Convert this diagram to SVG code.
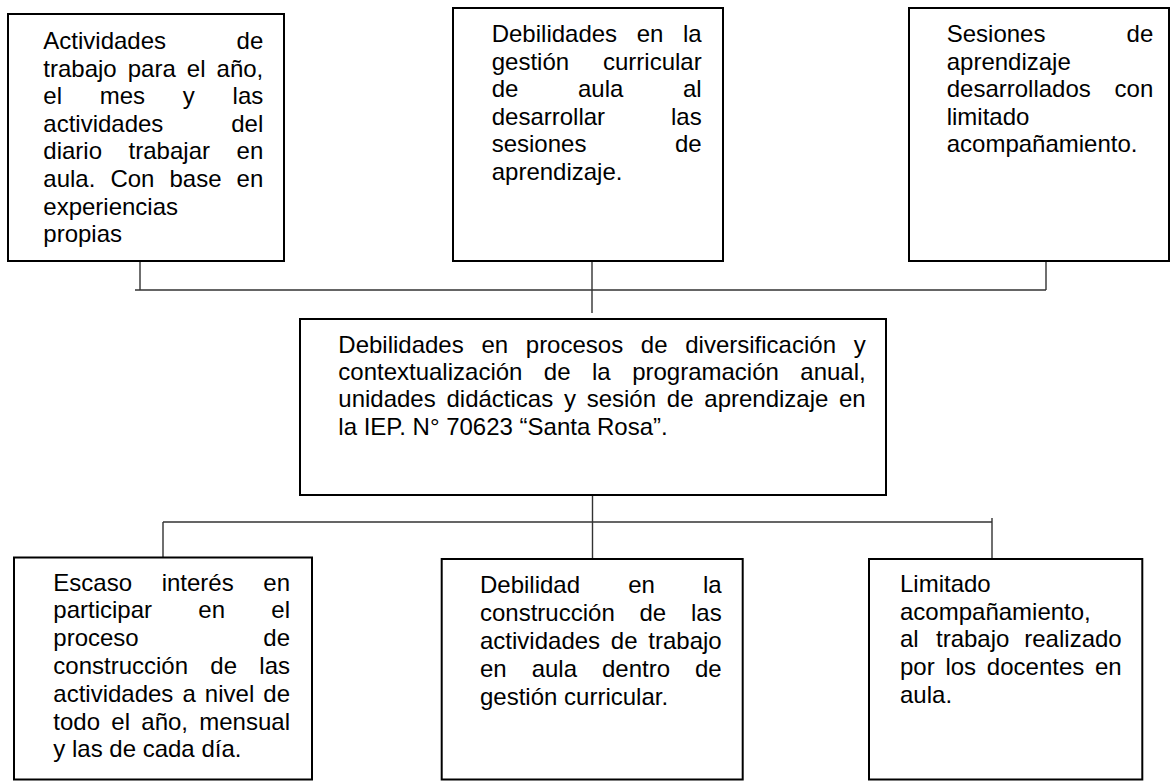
<svg xmlns="http://www.w3.org/2000/svg" width="1171" height="781" viewBox="0 0 1171 781">
<style>
.box{fill:#fff;stroke:#000;stroke-width:2}
.t{font-family:"Liberation Sans",Arial,sans-serif;font-size:24px;fill:#000}
.e{text-anchor:end}
.conn{stroke:#333;stroke-width:1.4;fill:none}
</style>
<rect width="1171" height="781" fill="#fff"/>
<g id="connectors">
<path class="conn" d="M140,261 V290 M135,290 H1046 M1046,261 V290 M592,261 V313"/>
<path class="conn" d="M592.5,495 V559 M163,522 H992 M163,522 V558 M992,518 V559"/>
</g>
<g id="node-top1">
<rect class="box" x="8" y="14" width="276" height="247"/>
<text class="t"><tspan x="43.3" y="49">Actividades</tspan><tspan class="e" x="263.3" y="49">de</tspan><tspan x="43.3" y="76.6">trabajo</tspan><tspan x="127.75" y="76.6">para</tspan><tspan x="186.85" y="76.6">el</tspan><tspan class="e" x="263.3" y="76.6">año,</tspan><tspan x="43.3" y="104.2">el</tspan><tspan x="99.74" y="104.2">mes</tspan><tspan x="182.85" y="104.2">y</tspan><tspan class="e" x="263.3" y="104.2">las</tspan><tspan x="43.3" y="131.8">actividades</tspan><tspan class="e" x="263.3" y="131.8">del</tspan><tspan x="43.3" y="159.4">diario</tspan><tspan x="128.62" y="159.4">trabajar</tspan><tspan class="e" x="263.3" y="159.4">en</tspan><tspan x="43.3" y="187">aula.</tspan><tspan x="110.41" y="187">Con</tspan><tspan x="169.51" y="187">base</tspan><tspan class="e" x="263.3" y="187">en</tspan><tspan x="43.3" y="214.6">experiencias</tspan><tspan x="43.3" y="242.2">propias</tspan></text>
</g>
<g id="node-top2">
<rect class="box" x="453" y="8" width="270" height="253"/>
<text class="t"><tspan x="491.7" y="42">Debilidades</tspan><tspan x="636.71" y="42">en</tspan><tspan class="e" x="701.7" y="42">la</tspan><tspan x="491.7" y="69.5">gestión</tspan><tspan class="e" x="701.7" y="69.5">curricular</tspan><tspan x="491.7" y="97">de</tspan><tspan x="578.03" y="97">aula</tspan><tspan class="e" x="701.7" y="97">al</tspan><tspan x="491.7" y="124.5">desarrollar</tspan><tspan class="e" x="701.7" y="124.5">las</tspan><tspan x="491.7" y="152">sesiones</tspan><tspan class="e" x="701.7" y="152">de</tspan><tspan x="491.7" y="179.5">aprendizaje.</tspan></text>
</g>
<g id="node-top3">
<rect class="box" x="909" y="8" width="260" height="253"/>
<text class="t"><tspan x="946.7" y="42">Sesiones</tspan><tspan class="e" x="1153.3" y="42">de</tspan><tspan x="946.7" y="69.5">aprendizaje</tspan><tspan x="946.7" y="97">desarrollados</tspan><tspan class="e" x="1153.3" y="97">con</tspan><tspan x="946.7" y="124.5">limitado</tspan><tspan x="946.7" y="152">acompañamiento.</tspan></text>
</g>
<g id="node-center">
<rect class="box" x="300" y="319" width="586" height="176"/>
<text class="t"><tspan x="338.3" y="352.7">Debilidades</tspan><tspan x="481.39" y="352.7">en</tspan><tspan x="525.79" y="352.7">procesos</tspan><tspan x="640.87" y="352.7">de</tspan><tspan x="685.27" y="352.7">diversificación</tspan><tspan class="e" x="865.7" y="352.7">y</tspan><tspan x="338.3" y="380">contextualización</tspan><tspan x="543.85" y="380">de</tspan><tspan x="592.01" y="380">la</tspan><tspan x="632.15" y="380">programación</tspan><tspan class="e" x="865.7" y="380">anual,</tspan><tspan x="338.3" y="407.3">unidades</tspan><tspan x="446.46" y="407.3">didácticas</tspan><tspan x="563.93" y="407.3">y</tspan><tspan x="586.7" y="407.3">sesión</tspan><tspan x="666.83" y="407.3">de</tspan><tspan x="704.29" y="407.3">aprendizaje</tspan><tspan class="e" x="865.7" y="407.3">en</tspan><tspan x="338.3" y="434.6">la IEP. N° 70623 “Santa Rosa”.</tspan></text>
</g>
<g id="node-bottom1">
<rect class="box" x="14" y="557.5" width="298" height="222"/>
<text class="t"><tspan x="53.3" y="590.5">Escaso</tspan><tspan x="161.65" y="590.5">interés</tspan><tspan class="e" x="290" y="590.5">en</tspan><tspan x="53.3" y="618.3">participar</tspan><tspan x="198.32" y="618.3">en</tspan><tspan class="e" x="290" y="618.3">el</tspan><tspan x="53.3" y="646.1">proceso</tspan><tspan class="e" x="290" y="646.1">de</tspan><tspan x="53.3" y="673.9">construcción</tspan><tspan x="210.33" y="673.9">de</tspan><tspan class="e" x="290" y="673.9">las</tspan><tspan x="53.3" y="701.7">actividades</tspan><tspan x="182.44" y="701.7">a</tspan><tspan x="204.87" y="701.7">nivel</tspan><tspan class="e" x="290" y="701.7">de</tspan><tspan x="53.3" y="729.5">todo</tspan><tspan x="111.31" y="729.5">el</tspan><tspan x="141.29" y="729.5">año,</tspan><tspan class="e" x="290" y="729.5">mensual</tspan><tspan x="53.3" y="757.3">y las de cada día.</tspan></text>
</g>
<g id="node-bottom2">
<rect class="box" x="441.7" y="559" width="301" height="220.5"/>
<text class="t"><tspan x="480" y="592.7">Debilidad</tspan><tspan x="628.19" y="592.7">en</tspan><tspan class="e" x="721.7" y="592.7">la</tspan><tspan x="480" y="620.7">construcción</tspan><tspan x="639.53" y="620.7">de</tspan><tspan class="e" x="721.7" y="620.7">las</tspan><tspan x="480" y="648.7">actividades</tspan><tspan x="610.85" y="648.7">de</tspan><tspan class="e" x="721.7" y="648.7">trabajo</tspan><tspan x="480" y="676.7">en</tspan><tspan x="531.66" y="676.7">aula</tspan><tspan x="601.99" y="676.7">dentro</tspan><tspan class="e" x="721.7" y="676.7">de</tspan><tspan x="480" y="704.7">gestión curricular.</tspan></text>
</g>
<g id="node-bottom3">
<rect class="box" x="869" y="559" width="273.3" height="220.5"/>
<text class="t"><tspan x="900" y="591.7">Limitado</tspan><tspan x="900" y="619.5">acompañamiento,</tspan><tspan x="900" y="647.3">al</tspan><tspan x="936.02" y="647.3">trabajo</tspan><tspan class="e" x="1121.7" y="647.3">realizado</tspan><tspan x="900" y="675.1">por</tspan><tspan x="945.44" y="675.1">los</tspan><tspan x="986.87" y="675.1">docentes</tspan><tspan class="e" x="1121.7" y="675.1">en</tspan><tspan x="900" y="702.9">aula.</tspan></text>
</g>
</svg>
